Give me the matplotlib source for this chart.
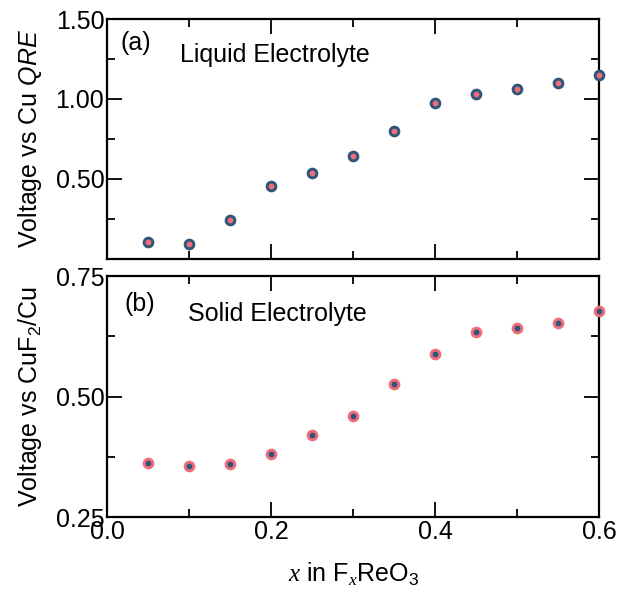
import matplotlib
matplotlib.use('Agg')
import matplotlib.pyplot as plt
from matplotlib.ticker import MultipleLocator

plt.rcParams['font.family'] = ['Liberation Sans', 'DejaVu Sans']
plt.rcParams['mathtext.fontset'] = 'custom'
plt.rcParams['mathtext.rm'] = 'Liberation Sans'
plt.rcParams['mathtext.it'] = 'Liberation Sans:italic'
plt.rcParams['mathtext.cal'] = 'Liberation Serif:italic'

x_frac = [0.05, 0.10, 0.15, 0.20, 0.25, 0.30, 0.35, 0.40, 0.45, 0.50, 0.55, 0.60]
v_liquid = [0.104, 0.094, 0.244, 0.456, 0.539, 0.646, 0.802, 0.975, 1.033, 1.060, 1.102, 1.148]
v_solid = [0.362, 0.356, 0.361, 0.381, 0.420, 0.460, 0.527, 0.589, 0.633, 0.643, 0.653, 0.678]

blue = '#2f5677'
pink = '#f06c7c'
fs = 18

fig = plt.figure(figsize=(6.19, 5.95), dpi=100)
ax1 = fig.add_axes([0.173, 0.565, 0.795, 0.403])
ax2 = fig.add_axes([0.173, 0.131, 0.795, 0.405])

ax1.plot(x_frac, v_liquid, 'o', ms=6.3, mfc=pink, mec=blue, mew=2.1, clip_on=False, zorder=5)
ax2.plot(x_frac, v_solid, 'o', ms=6.3, mfc=blue, mec=pink, mew=2.1, clip_on=False, zorder=5)

for ax in (ax1, ax2):
    ax.set_xlim(0, 0.6)
    ax.xaxis.set_major_locator(MultipleLocator(0.2))
    ax.xaxis.set_minor_locator(MultipleLocator(0.1))
    ax.tick_params(which='both', direction='in', top=True, right=True, width=1.3, labelsize=fs)
    ax.tick_params(which='major', length=11, pad=2)
    ax.tick_params(which='minor', length=5.5)
    for s in ax.spines.values():
        s.set_linewidth(1.6)

ax1.set_ylim(0, 1.5)
ax1.set_yticks([0.5, 1.0, 1.5])
ax1.set_yticklabels(['0.50', '1.00', '1.50'])
ax1.set_yticks([0.25, 0.75, 1.25], minor=True)
ax1.tick_params(axis='x', labelbottom=False)
ax1.set_ylabel('Voltage vs Cu $\\mathit{QRE}$', fontsize=fs, labelpad=8)
ax1.text(0.016, 1.306, '(a)', fontsize=fs)
ax1.text(0.089, 1.23, 'Liquid Electrolyte', fontsize=fs)

ax2.set_ylim(0.25, 0.75)
ax2.set_yticks([0.25, 0.5, 0.75])
ax2.set_yticklabels(['0.25', '0.50', '0.75'])
ax2.set_yticks([0.375, 0.625], minor=True)
ax2.set_xticks([0.0, 0.2, 0.4, 0.6])
ax2.set_xticklabels(['0.0', '0.2', '0.4', '0.6'])
ax2.set_ylabel('Voltage vs CuF$_2$/Cu', fontsize=fs, labelpad=8)
ax2.text(0.021, 0.678, '(b)', fontsize=fs)
ax2.text(0.099, 0.657, 'Solid Electrolyte', fontsize=fs)
ax2.set_xlabel('$\\mathcal{x}$ in F$_{\\mathcal{x}}$ReO$_3$', fontsize=fs, labelpad=12)

fig.savefig('out.png', dpi=100)
